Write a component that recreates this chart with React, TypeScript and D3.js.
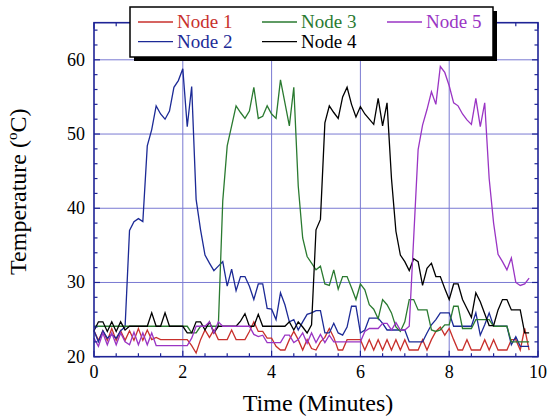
import { useEffect, useRef } from "react";
import * as d3 from "d3";

// sampled every 6 s (0.1 min)
const minutes = d3.range(0, 99).map((i) => i / 10);

const node1 = [
  23.5, 22.2, 23.5, 22.2, 23.8, 22.2, 23.5, 22.2, 23.5, 22.2,
  23.8, 22.2, 23.6, 22.3, 22.6, 22.3, 22.3, 22.3, 22.3, 22.3,
  22.3, 22.3, 21.5, 20.5, 22.3, 23.6, 22.6, 23.6, 22.3, 22.3,
  22.3, 23.6, 22.3, 22.3, 22.3, 23.4, 24.7, 23.4, 23.4, 22.5,
  22.5, 21.4, 20.9, 20.9, 22.3, 23.4, 22.3, 20.9, 22.3, 21.1,
  20.9, 22.0, 22.6, 23.8, 22.6, 20.9, 20.9, 22.3, 22.3, 22.3,
  22.3, 20.9, 22.3, 20.9, 22.3, 20.9, 22.3, 20.9, 22.3, 20.9,
  22.3, 20.9, 20.9, 20.9, 22.3, 20.9, 22.3, 23.4, 24.0, 22.9,
  23.8, 22.3, 20.9, 20.9, 22.3, 20.9, 20.9, 20.9, 22.3, 20.9,
  22.3, 20.9, 20.9, 20.9, 22.3, 22.3, 20.9, 23.8, 20.9,
];

const node2 = [
  23.5, 22.0, 23.5, 22.5, 23.0, 22.5, 23.5, 24.0, 37.0, 38.2,
  38.6, 38.2, 48.4, 50.6, 53.8, 52.7, 52.0, 53.1, 56.3, 57.2,
  58.8, 51.0, 56.4, 41.2, 37.1, 33.7, 32.6, 31.6, 32.2, 32.8,
  29.5, 31.8, 28.9, 30.8, 30.8, 29.5, 27.7, 29.8, 29.8, 26.5,
  26.4, 25.0, 28.6, 27.0, 24.7, 25.0, 23.6, 24.7, 25.7, 25.9,
  26.2, 26.2, 23.2, 23.2, 24.5, 23.2, 22.9, 24.0, 26.8, 26.8,
  23.2, 23.6, 25.2, 25.2, 25.2, 24.5, 23.6, 23.6, 23.6, 23.6,
  23.6, 22.0, 22.0, 22.0, 22.0, 23.2, 24.3, 25.0, 25.9, 25.9,
  25.9, 24.1, 24.1, 24.1, 24.1, 24.1, 25.9, 22.9, 24.3, 25.9,
  24.1, 24.1, 24.1, 24.1, 21.6, 22.7, 21.4, 21.4, 21.4,
];

const node3 = [
  24.1, 24.1, 24.1, 24.1, 24.1, 24.1, 24.1, 24.1, 24.1, 24.1,
  24.1, 24.1, 24.1, 24.1, 24.1, 24.1, 24.1, 24.1, 24.1, 24.1,
  24.1, 24.1, 23.2, 23.2, 24.1, 24.1, 24.1, 24.1, 24.1, 41.0,
  48.4, 51.1, 53.8, 52.9, 52.1, 53.1, 56.3, 52.1, 52.4, 53.8,
  52.7, 52.1, 57.3, 54.2, 51.1, 56.3, 43.0, 36.0, 33.5, 32.6,
  31.7, 32.2, 29.8, 29.6, 31.7, 29.1, 30.8, 30.8, 29.3, 27.7,
  29.8, 29.0, 27.0, 26.4, 25.1, 27.7, 27.0, 25.9, 24.0, 23.4,
  24.7, 27.7, 27.7, 26.3, 26.3, 26.3, 23.6, 23.4, 23.6, 24.3,
  24.3, 26.8, 26.8, 23.8, 23.8, 23.8, 25.0, 25.0, 25.0, 25.0,
  24.1, 24.1, 24.1, 24.1, 22.0, 22.0, 22.0, 22.0, 22.0,
];

const node4 = [
  23.5, 24.7, 24.7, 23.4, 24.7, 23.4, 24.7, 23.6, 24.1, 24.1,
  24.1, 24.1, 24.1, 25.9, 24.1, 24.1, 25.9, 24.1, 24.1, 24.1,
  24.1, 23.2, 23.2, 24.7, 24.7, 23.6, 24.7, 23.2, 24.1, 24.1,
  24.1, 24.1, 24.1, 24.8, 25.8, 24.1, 24.1, 25.7, 24.1, 24.1,
  24.1, 24.1, 24.1, 24.1, 24.7, 23.6, 24.7, 24.0, 23.2, 24.3,
  37.1, 38.5, 51.5, 53.8, 52.9, 52.1, 55.0, 56.3, 54.0, 52.3,
  53.7, 52.7, 52.0, 51.3, 54.8, 51.1, 54.2, 44.0, 36.9, 33.7,
  32.8, 31.6, 33.2, 32.8, 29.6, 31.9, 32.6, 30.8, 30.8, 29.2,
  27.7, 29.8, 29.8, 27.7, 26.5, 25.3, 28.6, 27.4, 25.8, 24.2,
  24.2, 26.3, 27.7, 27.7, 26.3, 26.3, 26.3, 23.2, 23.2,
];

const node5 = [
  22.5, 21.4, 23.2, 21.6, 23.2, 21.6, 23.2, 22.0, 21.6, 23.3,
  21.6, 23.2, 21.6, 23.2, 21.5, 21.5, 21.5, 21.5, 21.5, 21.5,
  21.5, 21.5, 22.5, 24.1, 24.1, 24.1, 24.7, 23.2, 24.7, 24.1,
  24.1, 24.1, 24.1, 24.1, 24.1, 24.1, 23.0, 22.7, 22.9, 21.9,
  21.9, 21.9, 21.9, 22.9, 22.9, 21.9, 22.3, 23.2, 21.8, 23.2,
  21.9, 23.0, 21.9, 22.9, 22.0, 22.0, 22.0, 22.0, 22.0, 22.0,
  22.0, 23.4, 23.8, 23.8, 23.8, 24.5, 24.5, 23.6, 24.6, 23.6,
  23.6, 24.1, 36.0, 47.9, 51.2, 53.3, 55.7, 54.0, 59.1, 58.3,
  56.5, 54.2, 53.8, 52.7, 51.9, 51.3, 54.8, 51.0, 54.2, 44.0,
  38.0, 33.8, 32.8, 31.7, 33.3, 30.0, 29.6, 29.8, 30.6,
];

const nodeNames = ["Node 1", "Node 2", "Node 3", "Node 4", "Node 5"];
const nodeColors = ["#c8302c", "#1c2a96", "#2a7a30", "#000000", "#9a35c4"];
const xTicks = [0, 2, 4, 6, 8, 10];
const yTicks = [20, 30, 40, 50, 60];

const W = 550;
const H = 419;
const margin = { top: 22.7, right: 12, bottom: 62.3, left: 94 };
const FONT = "'Liberation Serif', 'DejaVu Serif', 'Noto Serif', Tinos, Times, serif";

const App = () => {
  const ref = useRef<SVGSVGElement | null>(null);

  useEffect(() => {
    const svg = d3.select(ref.current);
    svg.selectAll("*").remove();

    const x = d3.scaleLinear().domain([0, 10]).range([margin.left, W - margin.right]);
    const y = d3.scaleLinear().domain([20, 65]).range([H - margin.bottom, margin.top]);
    const [x0, x1] = x.range();
    const [y0, y1] = y.range();
    const frame = "#1e2496";
    const grid = "#7a7ad2";

    // grid
    const g = svg.append("g");
    g.selectAll("line.gx")
      .data(xTicks.filter((d) => d > 0 && d < 10))
      .enter()
      .append("line")
      .attr("x1", (d) => x(d))
      .attr("x2", (d) => x(d))
      .attr("y1", y0)
      .attr("y2", y1)
      .attr("stroke", grid)
      .attr("stroke-width", 1);
    g.selectAll("line.gy")
      .data(yTicks.filter((d) => d > 20))
      .enter()
      .append("line")
      .attr("x1", x0)
      .attr("x2", x1)
      .attr("y1", (d) => y(d))
      .attr("y2", (d) => y(d))
      .attr("stroke", grid)
      .attr("stroke-width", 1);

    // series
    const line = d3
      .line<number>()
      .x((_, i) => x(minutes[i]))
      .y((d) => y(d));
    const all = [node1, node2, node3, node4, node5];
    svg.append("g")
      .selectAll("path")
      .data(all)
      .enter()
      .append("path")
      .attr("d", (d) => line(d) as string)
      .attr("fill", "none")
      .attr("stroke", (_, i) => nodeColors[i])
      .attr("stroke-width", 1.3);

    // frame + ticks
    const ax = svg.append("g").attr("stroke", frame);
    ax.append("rect")
      .attr("x", x0)
      .attr("y", y1)
      .attr("width", x1 - x0)
      .attr("height", y0 - y1)
      .attr("fill", "none")
      .attr("stroke-width", 1.6);

    const xMinor = d3.range(0, 10.01, 0.5);
    const yMinor = d3.range(20, 65.01, 2);
    xMinor.forEach((v) => {
      const len = xTicks.includes(v) ? 6 : 3.5;
      ax.append("line").attr("x1", x(v)).attr("x2", x(v)).attr("y1", y0).attr("y2", y0 - len).attr("stroke-width", 1.2);
      ax.append("line").attr("x1", x(v)).attr("x2", x(v)).attr("y1", y1).attr("y2", y1 + len).attr("stroke-width", 1.2);
    });
    yMinor.forEach((v) => {
      const len = yTicks.includes(v) ? 6 : 3.5;
      ax.append("line").attr("x1", x0).attr("x2", x0 + len).attr("y1", y(v)).attr("y2", y(v)).attr("stroke-width", 1.2);
      ax.append("line").attr("x1", x1).attr("x2", x1 - len).attr("y1", y(v)).attr("y2", y(v)).attr("stroke-width", 1.2);
    });

    // tick labels
    svg.append("g")
      .selectAll("text")
      .data(xTicks)
      .enter()
      .append("text")
      .attr("x", (d) => x(d))
      .attr("y", y0 + 21.5)
      .attr("text-anchor", "middle")
      .attr("font-family", FONT)
      .attr("font-size", 18)
      .text((d) => d);
    svg.append("g")
      .selectAll("text")
      .data(yTicks)
      .enter()
      .append("text")
      .attr("x", x0 - 9)
      .attr("y", (d) => y(d) + 6)
      .attr("text-anchor", "end")
      .attr("font-family", FONT)
      .attr("font-size", 18)
      .text((d) => d);

    // axis titles
    svg.append("text")
      .attr("x", 318)
      .attr("y", 411)
      .attr("text-anchor", "middle")
      .attr("font-family", FONT)
      .attr("font-size", 24)
      .text("Time (Minutes)");
    const yt = svg.append("text")
      .attr("transform", `translate(26,${(y0 + y1) / 2 + 2}) rotate(-90)`)
      .attr("text-anchor", "middle")
      .attr("font-family", FONT)
      .attr("font-size", 24);
    yt.append("tspan").text("Temperature (");
    yt.append("tspan").attr("font-size", 15).attr("dy", -9).text("o");
    yt.append("tspan").attr("dy", 9).text("C)");

    // legend
    const lg = svg.append("g");
    lg.append("rect").attr("x", 134).attr("y", 11).attr("width", 363).attr("height", 50).attr("fill", "#000");
    lg.append("rect")
      .attr("x", 130)
      .attr("y", 7)
      .attr("width", 363)
      .attr("height", 50)
      .attr("fill", "#fff")
      .attr("stroke", "#000")
      .attr("stroke-width", 1.5);
    const cols = [138, 262, 387];
    const rows = [22, 41.7];
    nodeNames.forEach((name, i) => {
      const cx = cols[Math.floor(i / 2)];
      const cy = rows[i % 2];
      lg.append("line")
        .attr("x1", cx)
        .attr("x2", cx + 35)
        .attr("y1", cy)
        .attr("y2", cy)
        .attr("stroke", nodeColors[i])
        .attr("stroke-width", 1.3);
      lg.append("text")
        .attr("x", cx + 39)
        .attr("y", cy + 6)
        .attr("font-family", FONT)
        .attr("font-size", 19)
        .attr("fill", nodeColors[i])
        .text(name);
    });
  }, []);

  return (
    <svg
      ref={ref}
      width={W}
      height={H}
      style={{ position: "absolute", left: 0, top: 0, background: "#fff" }}
    />
  );
};

export default App;
